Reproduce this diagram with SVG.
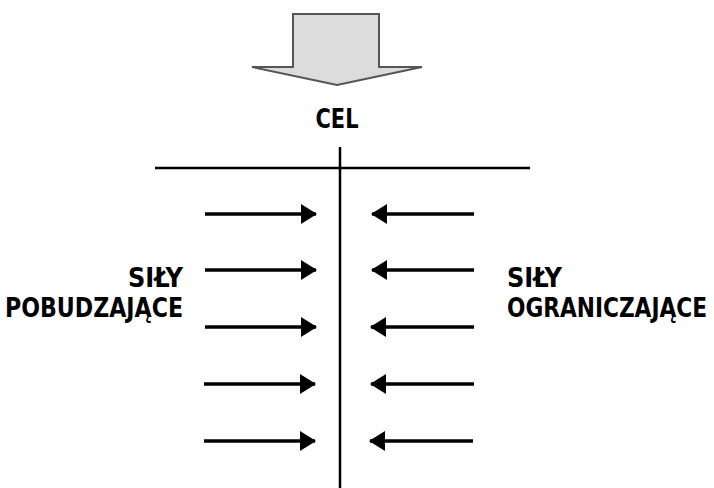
<svg xmlns="http://www.w3.org/2000/svg" width="714" height="488" viewBox="0 0 714 488">
  <style>
    .lbl { font-family: "DejaVu Sans Condensed", "DejaVu Sans", sans-serif; font-weight: bold; font-size: 27px; fill: #000; }
    .axis { stroke: #000; stroke-width: 2.5; fill: none; }
    .force { stroke: #000; stroke-width: 3.5; fill: none; }
  </style>
  <defs>
    <marker id="head" viewBox="0 0 16 20" refX="15" refY="10" markerWidth="16" markerHeight="20" markerUnits="userSpaceOnUse" orient="auto">
      <path d="M0,0 L16,10 L0,20 Z" fill="#000"/>
    </marker>
  </defs>
  <rect width="714" height="488" fill="#fff"/>

  <!-- goal block arrow -->
  <g id="goal-arrow">
    <path d="M293,14 H379 V67 H422 L337,85 L252,67 H293 Z" fill="#dcdcdc" stroke="#555" stroke-width="2" stroke-linejoin="miter"/>
  </g>

  <g id="goal-label">
    <text class="lbl" x="337" y="128" text-anchor="middle" textLength="43" lengthAdjust="spacingAndGlyphs">CEL</text>
  </g>

  <!-- balance axes -->
  <g id="axes">
    <line class="axis" x1="155" y1="168" x2="530" y2="168"/>
    <line class="axis" x1="340" y1="147" x2="340" y2="488"/>
  </g>

  <g id="driving-label">
    <text class="lbl" x="183" y="287" text-anchor="end" textLength="55" lengthAdjust="spacingAndGlyphs">SIŁY</text>
    <text class="lbl" x="183" y="317" text-anchor="end" textLength="178" lengthAdjust="spacingAndGlyphs">POBUDZAJĄCE</text>
  </g>

  <g id="restraining-label">
    <text class="lbl" x="507" y="287" textLength="55" lengthAdjust="spacingAndGlyphs">SIŁY</text>
    <text class="lbl" x="507" y="317" textLength="200" lengthAdjust="spacingAndGlyphs">OGRANICZAJĄCE</text>
  </g>

  <!-- force arrows -->
  <g id="connectors">
    <line class="force" x1="205" y1="214" x2="316" y2="214" marker-end="url(#head)"/>
    <line class="force" x1="205" y1="270" x2="316" y2="270" marker-end="url(#head)"/>
    <line class="force" x1="205" y1="327" x2="316" y2="327" marker-end="url(#head)"/>
    <line class="force" x1="204" y1="384" x2="315" y2="384" marker-end="url(#head)"/>
    <line class="force" x1="204" y1="441" x2="315" y2="441" marker-end="url(#head)"/>

    <line class="force" x1="474" y1="214" x2="372" y2="214" marker-end="url(#head)"/>
    <line class="force" x1="474" y1="270" x2="372" y2="270" marker-end="url(#head)"/>
    <line class="force" x1="474" y1="327" x2="371" y2="327" marker-end="url(#head)"/>
    <line class="force" x1="474" y1="384" x2="371" y2="384" marker-end="url(#head)"/>
    <line class="force" x1="473" y1="441" x2="370" y2="441" marker-end="url(#head)"/>
  </g>
</svg>
